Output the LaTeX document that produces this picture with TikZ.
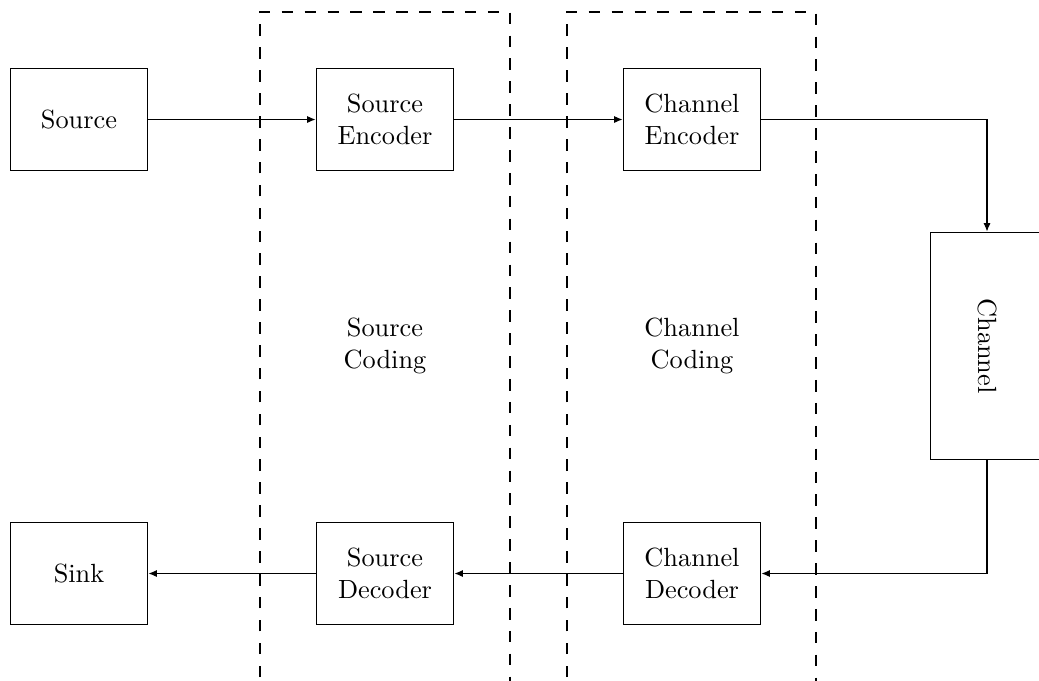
\documentclass[tikz,border=0pt]{standalone}
\usetikzlibrary{arrows.meta}

\tikzset{
  block/.style={draw, line width=0.4pt, minimum width=52.4pt, minimum height=39.1pt,
                align=center, inner sep=2pt},
  flow/.style={-{Latex[length=3.2pt,width=2.7pt]}, line width=0.4pt},
  stage/.style={draw, dash pattern=on 4.4pt off 4.3pt, line width=0.4pt},
  stagelabel/.style={align=center}
}

\begin{document}
\begin{tikzpicture}[x=0.38pt,y=-0.38pt]
  \useasboundingbox (0,0) rectangle (1039,680);

  % coding stages
  \draw[stage] (260,700) -- (260,12) -- (510,12) -- (510,700);
  \draw[stage] (567,700) -- (567,12) -- (816,12) -- (816,700);
  \node[stagelabel] (sc) at (385,346) {Source\\Coding};
  \node[stagelabel] (cc) at (692,346) {Channel\\Coding};

  % transmitter chain
  \node[block] (src) at (79,119.5) {Source};
  \node[block] (senc) at (385,119.5) {Source\\Encoder};
  \node[block] (cenc) at (692,119.5) {Channel\\Encoder};

  % channel
  \node[block, minimum width=43.3pt, minimum height=86.6pt] (ch) at (987,346) {\rotatebox{-90}{Channel}};

  % receiver chain
  \node[block] (sink) at (79,573.5) {Sink};
  \node[block] (sdec) at (385,573.5) {Source\\Decoder};
  \node[block] (cdec) at (692,573.5) {Channel\\Decoder};

  % connections
  \draw[flow] (src) -- (senc);
  \draw[flow] (senc) -- (cenc);
  \draw[flow] (cenc.east) -| (ch.north);
  \draw[flow] (ch.south) |- (cdec.east);
  \draw[flow] (cdec) -- (sdec);
  \draw[flow] (sdec) -- (sink);
\end{tikzpicture}
\end{document}
